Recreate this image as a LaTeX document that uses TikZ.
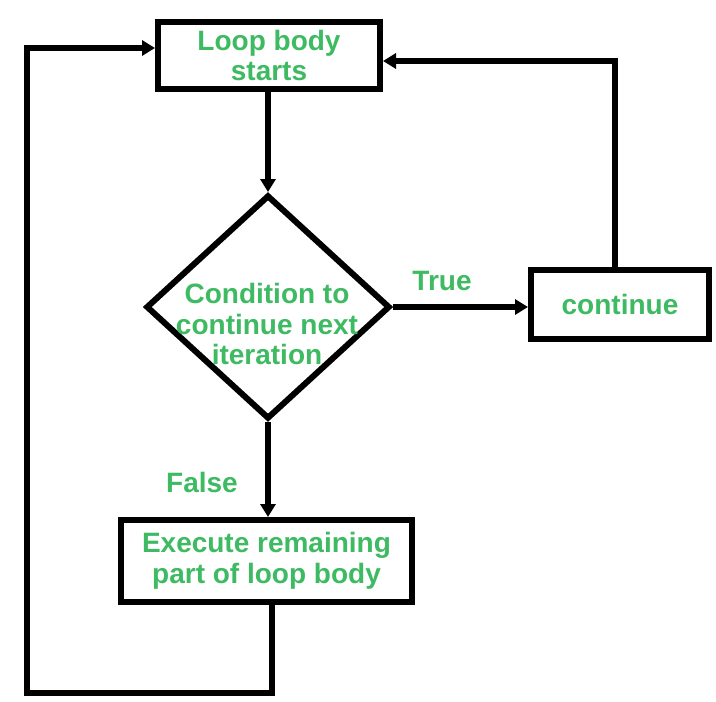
\documentclass[tikz,border=0pt]{standalone}
\usepackage{fontspec}
\setmainfont{Liberation Sans}
\usetikzlibrary{arrows.meta,shapes.geometric}
\definecolor{txtgreen}{RGB}{62,186,98}
\tikzset{
  flowbox/.style={draw=black, line width=6pt, rectangle, inner sep=0pt, fill=white},
  flowtext/.style={text=txtgreen, font=\bfseries\fontsize{28}{30.5}\selectfont, align=center, inner sep=0pt},
  link/.style={draw=black, line width=6pt, line join=miter},
  arr/.style={link, -{Triangle[length=13pt,width=15pt]}},
}
\begin{document}
\begin{tikzpicture}[x=1pt,y=-1pt]
  \useasboundingbox (0,0) rectangle (716,702);
  \fill[white] (0,0) rectangle (716,702);

  % process boxes
  \node[flowbox, flowtext, minimum width=222pt, minimum height=67pt] (start) at (269,55.5) {Loop body\\starts};
  \node[flowbox, flowtext, minimum width=178pt, minimum height=69pt] (cont) at (620,304.5) {continue};
  \node[flowbox, flowtext, minimum width=291pt, minimum height=82pt] (rest) at (266.5,561) {Execute remaining\\part of loop body};

  % decision
  \node[draw=black, line width=6pt, diamond, inner sep=0pt, minimum width=244pt, minimum height=224pt] (cond) at (268,307) {};
  \node[flowtext] (condtxt) at (267,324) {Condition to\\continue next\\iteration};

  % branch labels
  \node[flowtext] (truelbl) at (442,281) {True};
  \node[flowtext] (falselbl) at (202,482) {False};

  % routing points
  \coordinate (rtop) at (615,61);
  \coordinate (ebot) at (272,693);
  \coordinate (lbot) at (27,693);
  \coordinate (ltop) at (27,48);

  % connectors
  \draw[arr] (start.south -| cond.north) -- (cond.north);
  \draw[arr] (cond.east) -- (cond.east -| cont.west);
  \draw[arr] (cond.south) -- (rest.north -| cond.south);
  \draw[arr] (cont.north -| rtop) -- (rtop) -- (rtop -| start.east);
  \draw[arr] (rest.south -| ebot) -- (ebot) -- (lbot) -- (ltop) -- (ltop -| start.west);
\end{tikzpicture}
\end{document}
